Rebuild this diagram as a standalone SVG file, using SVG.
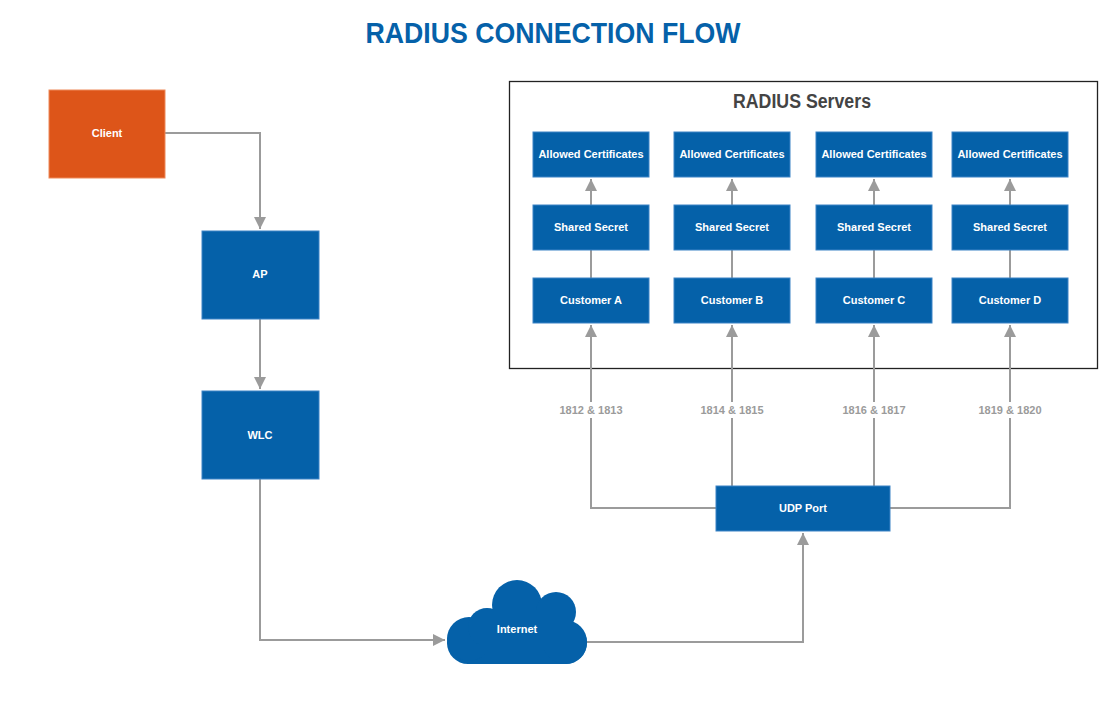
<svg xmlns="http://www.w3.org/2000/svg" width="1118" height="717" viewBox="0 0 1118 717">
<defs>
<marker id="arr" markerUnits="userSpaceOnUse" markerWidth="12" markerHeight="12" refX="10" refY="5" orient="auto" viewBox="0 0 10 10">
<path d="M0,0 L10,5 L0,10 z" fill="#9b9b9b"/>
</marker>
<style>
.box{fill:#0561A9;stroke:#3c84c6;stroke-width:1}
.org{fill:#DD5519;stroke:#ee8a5a;stroke-width:1}
.t{font-family:"Liberation Sans",Arial,sans-serif;font-weight:bold;font-size:11px;fill:#fff;text-anchor:middle;dominant-baseline:central}
.c{fill:none;stroke:#9b9b9b;stroke-width:2}
.lbl{font-family:"Liberation Sans",Arial,sans-serif;font-weight:bold;font-size:11px;fill:#9b9b9b;text-anchor:middle;dominant-baseline:central}
</style>
</defs>
<rect width="1118" height="717" fill="#fff"/>
<text x="553" y="32" font-family="Liberation Sans, Arial, sans-serif" font-weight="bold" font-size="30" fill="#0561A9" text-anchor="middle" dominant-baseline="central" textLength="375" lengthAdjust="spacingAndGlyphs">RADIUS CONNECTION FLOW</text>

<g id="radius-servers">
<rect x="509.5" y="81.5" width="588" height="287" fill="#fff" stroke="#222" stroke-width="1.3"/>
<text x="802" y="101" font-family="Liberation Sans, Arial, sans-serif" font-weight="bold" font-size="20" fill="#444" text-anchor="middle" dominant-baseline="central" textLength="138" lengthAdjust="spacingAndGlyphs">RADIUS Servers</text>
</g>

<g id="connectors">
<path class="c" d="M165,133 H260 V229" marker-end="url(#arr)"/>
<path class="c" d="M260,319 V389" marker-end="url(#arr)"/>
<path class="c" d="M260,479 V640 H445" marker-end="url(#arr)"/>
<path class="c" d="M586,642 H803 V533" marker-end="url(#arr)"/>
<path class="c" d="M716,508 H591 V325" marker-end="url(#arr)"/>
<path class="c" d="M732,486 V325" marker-end="url(#arr)"/>
<path class="c" d="M874,486 V325" marker-end="url(#arr)"/>
<path class="c" d="M890,508 H1010 V325" marker-end="url(#arr)"/>
<path class="c" d="M591,278 V250 M732,278 V250 M874,278 V250 M1010,278 V250"/>
<path class="c" d="M591,205 V179" marker-end="url(#arr)"/>
<path class="c" d="M732,205 V179" marker-end="url(#arr)"/>
<path class="c" d="M874,205 V179" marker-end="url(#arr)"/>
<path class="c" d="M1010,205 V179" marker-end="url(#arr)"/>
<rect x="556" y="402" width="70" height="16" fill="#fff"/>
<rect x="697" y="402" width="70" height="16" fill="#fff"/>
<rect x="839" y="402" width="70" height="16" fill="#fff"/>
<rect x="975" y="402" width="70" height="16" fill="#fff"/>
<text class="lbl" x="591" y="410">1812 &amp; 1813</text>
<text class="lbl" x="732" y="410">1814 &amp; 1815</text>
<text class="lbl" x="874" y="410">1816 &amp; 1817</text>
<text class="lbl" x="1010" y="410">1819 &amp; 1820</text>
</g>

<g id="client"><rect class="org" x="49" y="90" width="116" height="88"/><text class="t" x="107" y="133">Client</text></g>
<g id="ap"><rect class="box" x="202" y="231" width="117" height="88"/><text class="t" x="260" y="274">AP</text></g>
<g id="wlc"><rect class="box" x="202" y="391" width="117" height="88"/><text class="t" x="260" y="435">WLC</text></g>
<g id="internet">
<g fill="#0561A9">
<rect x="447" y="622" width="140" height="42" rx="21"/>
<circle cx="469" cy="639" r="22"/>
<circle cx="487" cy="627" r="19"/>
<circle cx="517" cy="605" r="25"/>
<circle cx="556" cy="612" r="20"/>
<circle cx="565" cy="642" r="22"/>
<rect x="480" y="610" width="90" height="40"/>
</g>
<text class="t" x="517" y="629">Internet</text>
</g>
<g id="udp-port"><rect class="box" x="716" y="486" width="174" height="45"/><text class="t" x="803" y="508">UDP Port</text></g>

<g id="col-a">
<rect class="box" x="533" y="132" width="116" height="45"/><text class="t" x="591" y="154">Allowed Certificates</text>
<rect class="box" x="533" y="205" width="116" height="45"/><text class="t" x="591" y="227">Shared Secret</text>
<rect class="box" x="533" y="278" width="116" height="45"/><text class="t" x="591" y="300">Customer A</text>
</g>
<g id="col-b">
<rect class="box" x="674" y="132" width="116" height="45"/><text class="t" x="732" y="154">Allowed Certificates</text>
<rect class="box" x="674" y="205" width="116" height="45"/><text class="t" x="732" y="227">Shared Secret</text>
<rect class="box" x="674" y="278" width="116" height="45"/><text class="t" x="732" y="300">Customer B</text>
</g>
<g id="col-c">
<rect class="box" x="816" y="132" width="116" height="45"/><text class="t" x="874" y="154">Allowed Certificates</text>
<rect class="box" x="816" y="205" width="116" height="45"/><text class="t" x="874" y="227">Shared Secret</text>
<rect class="box" x="816" y="278" width="116" height="45"/><text class="t" x="874" y="300">Customer C</text>
</g>
<g id="col-d">
<rect class="box" x="952" y="132" width="116" height="45"/><text class="t" x="1010" y="154">Allowed Certificates</text>
<rect class="box" x="952" y="205" width="116" height="45"/><text class="t" x="1010" y="227">Shared Secret</text>
<rect class="box" x="952" y="278" width="116" height="45"/><text class="t" x="1010" y="300">Customer D</text>
</g>
</svg>
